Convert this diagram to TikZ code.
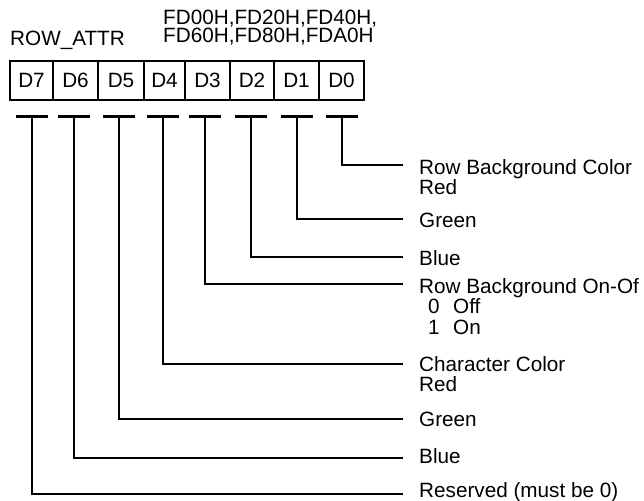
\documentclass[tikz,border=0pt]{standalone}
\usepackage{fontspec}
\setmainfont{Liberation Sans}
\begin{document}
\begin{tikzpicture}[x=1pt,y=-1pt,
  txt/.style={font=\fontsize{20.7}{20.5}\selectfont, inner sep=0pt, anchor=base west, align=left},
  cell/.style={draw, line width=2pt, minimum height=39pt, inner sep=0pt, anchor=north west,
               font=\fontsize{20.7}{20.5}\selectfont},
  lead/.style={line width=2.4pt},
  tbar/.style={line width=3pt}]
\useasboundingbox (0,0) rectangle (644,500);

% register cells
\node[cell, minimum width=43pt] (d7) at (9,60) {D7};
\node[cell, minimum width=45pt] (d6) at (52,60) {D6};
\node[cell, minimum width=46pt] (d5) at (97,60) {D5};
\node[cell, minimum width=41pt] (d4) at (143,60) {D4};
\node[cell, minimum width=45pt] (d3) at (184,60) {D3};
\node[cell, minimum width=44pt] (d2) at (229,60) {D2};
\node[cell, minimum width=45pt] (d1) at (273,60) {D1};
\node[cell, minimum width=45pt] (d0) at (318,60) {D0};

% titles (base anchor of a multi-line node = baseline of its last line)
\node[txt] (reg) at (10,46) {ROW\_ATTR};
\node[txt, font=\fontsize{20.7}{17}\selectfont] (addr) at (163,43) {FD00H,FD20H,FD40H,\\FD60H,FD80H,FDA0H};

% T bar tops
\foreach \n/\x in {7/32,6/74,5/119,4/163,3/205,2/251,1/297,0/342}{
  \coordinate (t\n) at (\x,116);
  \draw[tbar] ([xshift=-16pt]t\n) -- ([xshift=16pt]t\n);
}

% line ends
\foreach \n/\y in {0/165,1/219,2/257,3/284,4/364,5/419,6/458,7/494}{
  \coordinate (e\n) at (403,\y);
}

% labels
\node[txt] (l0) at (419,194.5) {Row Background Color\\Red};
\node[txt] (l1) at (419,227) {Green};
\node[txt] (l2) at (419,265) {Blue};
\node[txt] (l3) at (419,334) {Row Background On-Of\\\hspace*{9pt}\makebox[25pt][l]{0}Off\\\hspace*{9pt}\makebox[25pt][l]{1}On};
\node[txt] (l4) at (419,391.5) {Character Color\\Red};
\node[txt] (l5) at (419,426) {Green};
\node[txt] (l6) at (419,463) {Blue};
\node[txt] (l7) at (419,497) {Reserved (must be 0)};

% leaders
\foreach \n in {0,...,7}{
  \draw[lead] (t\n) |- (e\n);
}
\end{tikzpicture}
\end{document}
